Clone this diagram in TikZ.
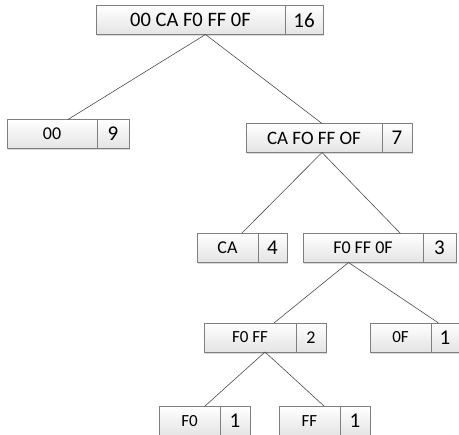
\documentclass[tikz,border=0pt]{standalone}
\usepackage{fontspec}
\setmainfont{Carlito}
\usetikzlibrary{shadows,calc}
\definecolor{bordergray}{HTML}{7F7F7F}
\definecolor{shadegray}{HTML}{E4E4E4}
\tikzset{
  partbox/.style={draw=bordergray, line width=0.8pt, top color=white, bottom color=shadegray,
    minimum height=29pt, inner sep=0pt, outer sep=0pt,
    drop shadow={shadow xshift=1.2pt, shadow yshift=-2pt, opacity=0.25, fill=black!60}},
  lbl/.style={partbox},
  num/.style={partbox},
  link/.style={draw=black!70, line width=0.6pt}
}
% \tbox{name}{left x}{center y}{text width}{num width}{text}{num}{label font size}{num font size}
\newcommand{\tbox}[9]{%
  \node[lbl, anchor=west, minimum width=#4pt, font=\fontsize{#8}{#8}\selectfont] (#1) at (#2pt,-#3pt) {#6};
  \node[num, anchor=west, minimum width=#5pt, font=\fontsize{#9}{#9}\selectfont] (#1-n) at (#1.east) {#7};
}
\begin{document}
\begin{tikzpicture}
\useasboundingbox (0,0) rectangle (459pt,-435pt);
\tbox{root}{96}{20}{189}{38}{00 CA F0 FF 0F}{16}{20.5}{21}
\tbox{a}{7}{134}{90}{32}{00}{9}{18}{21}
\tbox{b}{246}{138}{136}{30}{CA FO FF OF}{7}{19}{21}
\tbox{c}{197}{247.5}{61}{29}{CA}{4}{18}{21}
\tbox{d}{303}{248}{120}{33}{F0 FF 0F}{3}{18}{21}
\tbox{e}{204}{337.5}{92}{30}{F0 FF}{2}{17}{18}
\tbox{f}{370}{337.5}{61}{28}{0F}{1}{17}{21}
\tbox{g}{159}{421}{61}{30}{F0}{1}{17}{21}
\tbox{h}{279}{421}{61}{30}{FF}{1}{17}{21}
\foreach \p in {root,a,b,c,d,e,f,g,h}{
  \coordinate (\p-top) at ($(\p.north west)!0.5!(\p-n.north east)$);
  \coordinate (\p-bot) at ($(\p.south west)!0.5!(\p-n.south east)$);
}
\draw[link] ([xshift=-4pt]root-bot) -- (a-top);
\draw[link] ([xshift=-4pt]root-bot) -- ([xshift=-7pt]b-top);
\draw[link] ([xshift=-7pt]b-bot) -- (c-top);
\draw[link] ([xshift=-7pt]b-bot) -- ([xshift=21pt]d-top);
\draw[link] ([xshift=-31pt]d-bot) -- ([xshift=9pt]e-top);
\draw[link] ([xshift=-31pt]d-bot) -- ([xshift=24pt]f-top);
\draw[link] (e-bot) -- (g-top);
\draw[link] (e-bot) -- (h-top);
\end{tikzpicture}
\end{document}
